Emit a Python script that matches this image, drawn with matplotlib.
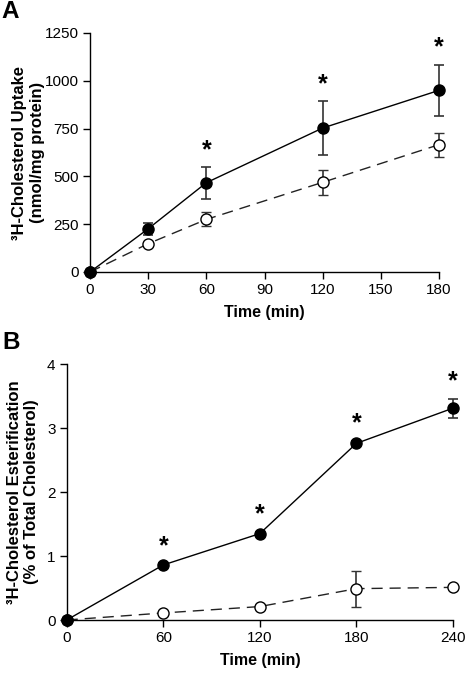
import numpy as np
import matplotlib.pyplot as plt

plt.rcParams['font.family'] = ['Liberation Sans', 'DejaVu Sans']

# panel A: uptake
tA = [0, 30, 60, 120, 180]
uptake_filled = [0, 226, 467, 753, 950]
uptake_filled_err = [0, 32, 83, 140, 135]
uptake_open = [0, 148, 275, 469, 666]
uptake_open_err = [0, 10, 37, 65, 63]
starsA = [60, 120, 180]

# panel B: esterification
tB = [0, 60, 120, 180, 240]
ester_filled = [0, 0.86, 1.35, 2.76, 3.31]
ester_filled_err = [0, 0.03, 0.03, 0.04, 0.15]
ester_open = [0, 0.11, 0.21, 0.49, 0.51]
ester_open_err = [0, 0.02, 0.03, 0.28, 0.03]
starsB = [60, 120, 180, 240]

W, H = 466, 674
fig = plt.figure(figsize=(W / 100, H / 100), dpi=100)
axA = fig.add_axes([90 / W, 402 / H, 349 / W, 239 / H])
axB = fig.add_axes([66.7 / W, 54 / H, 386.3 / W, 256 / H])


def draw(ax, t, yf, ef, yo, eo, stars, star_off):
    ax.errorbar(t, yo, yerr=eo, color='#222222', ecolor='#333333', elinewidth=1.2,
                capsize=3.5, capthick=1.2, lw=1.0, dashes=(8, 5),
                marker='o', ms=8, mfc='white', mec='black', mew=1.0, zorder=2)
    ax.errorbar(t, yf, yerr=ef, color='black', ecolor='#333333', elinewidth=1.2,
                capsize=3.5, capthick=1.2, lw=1.0,
                marker='o', ms=8, mfc='black', mec='black', zorder=3)
    for s in stars:
        i = t.index(s)
        ax.text(s, yf[i] + ef[i] + star_off, '*', ha='center', va='bottom',
                fontsize=18, fontweight='bold')
    for sp in ['top', 'right']:
        ax.spines[sp].set_visible(False)
    for sp in ['left', 'bottom']:
        ax.spines[sp].set_linewidth(1.0)
    ax.tick_params(direction='out', length=5, width=1.0, labelsize=11, pad=3)
    for sp in ax.spines.values():
        sp.set_clip_on(False)


draw(axA, tA, uptake_filled, uptake_filled_err, uptake_open, uptake_open_err, starsA, 25)
axA.set_xlim(0, 180)
axA.set_ylim(0, 1250)
axA.set_xticks([0, 30, 60, 90, 120, 150, 180])
axA.set_yticks([0, 250, 500, 750, 1000, 1250])
axA.set_xlabel('Time (min)', fontsize=11.5, fontweight='bold', labelpad=6)
axA.set_ylabel('\u00b3H-Cholesterol Uptake\n(nmol/mg protein)', fontsize=12,
               fontweight='bold', linespacing=1.25)

draw(axB, tB, ester_filled, ester_filled_err, ester_open, ester_open_err, starsB, 0.08)
axB.set_xlim(0, 240)
axB.set_ylim(0, 4)
axB.set_xticks([0, 60, 120, 180, 240])
axB.set_yticks([0, 1, 2, 3, 4])
axB.set_xlabel('Time (min)', fontsize=11.5, fontweight='bold', labelpad=6)
axB.set_ylabel('\u00b3H-Cholesterol Esterification\n(% of Total Cholesterol)', fontsize=12,
               fontweight='bold', linespacing=1.2)

# place y labels by their right edge in figure pixels
for ax, xr in ((axA, 45), (axB, 39)):
    ax.yaxis.set_label_coords(xr / W, 0.5 * (ax.get_position().y0 + ax.get_position().y1),
                              transform=fig.transFigure)

for ax in (axA, axB):
    for line in ax.lines:
        line.set_clip_on(False)
    for coll in ax.collections:
        coll.set_clip_on(False)

fig.text(1 / W, 1 - 0 / H, 'A', fontsize=17.5, fontweight='bold', va='top', ha='left')
fig.text(2 / W, 1 - 331 / H, 'B', fontsize=17.5, fontweight='bold', va='top', ha='left')

fig.savefig('out.png', dpi=100)
